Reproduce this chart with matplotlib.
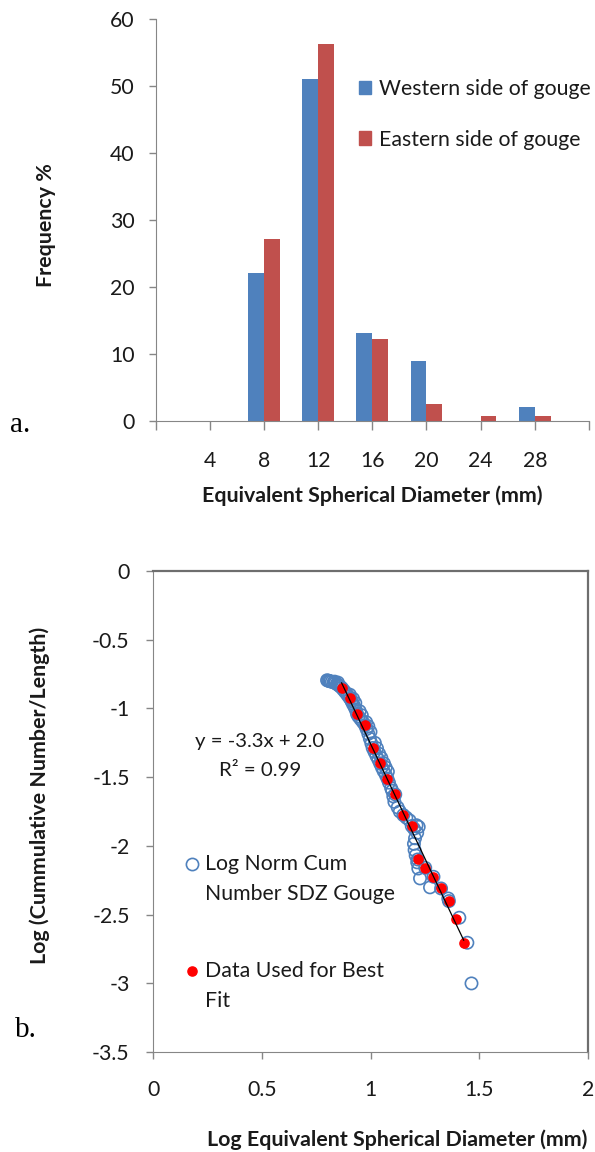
import matplotlib
matplotlib.use("Agg")
import matplotlib.pyplot as plt
from matplotlib.lines import Line2D
from matplotlib.patches import Patch
from matplotlib.legend_handler import HandlerLine2D
import numpy as np

plt.rcParams['font.family'] = ['Lato', 'DejaVu Sans']

# ---- panel a: size distribution ----
size_classes = [4, 8, 12, 16, 20, 24, 28]
western = [0, 22.1, 51.0, 13.2, 8.9, 0, 2.1]
eastern = [0, 27.2, 56.2, 12.2, 2.6, 0.8, 0.8]

# ---- panel b: log cumulative number vs log diameter ----
cum_x = [0.800, 0.805, 0.810, 0.815, 0.822, 0.830, 0.838, 0.845, 0.852, 0.860,
         0.867, 0.875, 0.884, 0.893, 0.900, 0.906, 0.912, 0.918, 0.925, 0.932,
         0.938, 0.945, 0.955, 0.965, 0.975, 0.982, 0.990, 0.997, 1.004, 1.010,
         1.018, 1.027, 1.036, 1.044, 1.052, 1.060, 1.070, 1.078, 1.085, 1.095,
         1.100, 1.105, 1.110, 1.114, 1.125, 1.135, 1.151, 1.165, 1.180, 1.190,
         1.200, 1.212, 1.222, 1.215, 1.205, 1.200, 1.203, 1.208, 1.217, 1.215,
         1.220, 1.228, 1.252, 1.274, 1.290, 1.325, 1.358, 1.361, 1.409, 1.446,
         1.465,
         0.905, 0.930, 0.950, 0.980, 1.000, 1.020, 1.040, 1.062, 1.080,
         0.920, 0.960, 0.990, 1.030, 1.050, 1.070, 0.835, 0.850]
cum_y = [-0.795, -0.798, -0.800, -0.803, -0.806, -0.810, -0.815, -0.822, -0.830, -0.840,
         -0.849, -0.865, -0.882, -0.900, -0.915, -0.927, -0.945, -0.965, -0.985, -1.010,
         -1.041, -1.060, -1.080, -1.100, -1.123, -1.150, -1.185, -1.220, -1.255, -1.288,
         -1.315, -1.345, -1.372, -1.400, -1.428, -1.455, -1.483, -1.511, -1.540, -1.580,
         -1.600, -1.640, -1.680, -1.626, -1.720, -1.750, -1.776, -1.795, -1.815, -1.856,
         -1.875, -1.850, -1.862, -1.905, -1.945, -1.985, -2.030, -2.070, -2.099, -2.120,
         -2.165, -2.237, -2.160, -2.302, -2.225, -2.310, -2.383, -2.402, -2.523, -2.705,
         -3.001,
         -0.900, -0.960, -1.020, -1.100, -1.170, -1.250, -1.330, -1.400, -1.460,
         -0.930, -1.050, -1.130, -1.290, -1.360, -1.430, -0.805, -0.812]

fit_x = [0.867, 0.906, 0.938, 0.975, 1.010, 1.044, 1.078, 1.114, 1.151, 1.190,
         1.217, 1.252, 1.290, 1.325, 1.361, 1.394, 1.429]
fit_y = [-0.849, -0.927, -1.041, -1.123, -1.288, -1.400, -1.511, -1.626, -1.776, -1.856,
         -2.099, -2.160, -2.225, -2.310, -2.402, -2.531, -2.710]

W, H = 595, 1152


def fx(px):
    return px / W


def fy(py):
    return 1 - py / H


class HandlerFirstLine(HandlerLine2D):
    """Legend marker lifted to the first line of a two-line label."""

    def __init__(self, lift, **kw):
        super().__init__(**kw)
        self.lift = lift

    def create_artists(self, legend, orig_handle, xdescent, ydescent,
                       width, height, fontsize, trans):
        return super().create_artists(legend, orig_handle, xdescent,
                                      ydescent - self.lift, width, height,
                                      fontsize, trans)


axis_grey = '#868686'
text_col = '#1a1a1a'
fs = 15.3
lab_fs = 15.4

fig = plt.figure(figsize=(5.95, 11.52), dpi=100)

# ===============================
# PANEL A
# ===============================
ax1 = fig.add_axes([fx(155.6), fy(421), (589 - 155.6) / W, (421 - 19) / H])
bar_w = 1.17
pos = np.array(size_classes)
ax1.bar(pos - bar_w / 2, western, width=bar_w, color='#4F81BD',
        label='Western side of gouge')
ax1.bar(pos + bar_w / 2, eastern, width=bar_w, color='#C0504D',
        label='Eastern side of gouge')
ax1.set_xlim(0, 32)
ax1.set_ylim(0, 60)
ax1.set_xticks(range(0, 33, 4))
ax1.set_xticklabels([''] + [str(s) for s in size_classes] + [''])
ax1.set_yticks(range(0, 61, 10))
ax1.tick_params(axis='x', length=6.5, width=1, color=axis_grey, pad=15,
                labelsize=fs, labelcolor=text_col)
ax1.tick_params(axis='y', length=5, width=1, color=axis_grey, pad=10,
                labelsize=fs, labelcolor=text_col)
for s in ['top', 'right']:
    ax1.spines[s].set_visible(False)
for s in ['left', 'bottom']:
    ax1.spines[s].set_color(axis_grey)

fig.legend(handles=[Patch(color='#4F81BD'), Patch(color='#C0504D')],
           labels=['Western side of gouge', 'Eastern side of gouge'],
           loc='upper left', bbox_to_anchor=(fx(358.6), fy(79)),
           frameon=False, fontsize=fs, handlelength=0.6, handleheight=0.6,
           handletextpad=0.35, labelspacing=1.44, borderpad=0, borderaxespad=0,
           labelcolor=text_col)

fig.text(fx(46), fy(225), 'Frequency %', rotation=90, weight='bold',
         fontsize=lab_fs, ha='center', va='center', color=text_col)
fig.text(fx(372), fy(496), 'Equivalent Spherical Diameter (mm)', weight='bold',
         fontsize=lab_fs, ha='center', va='center', color=text_col)
fig.text(fx(20), fy(425), 'a.', family='Liberation Serif', fontsize=21,
         ha='center', va='center', color='black')

# ===============================
# PANEL B
# ===============================
ax2 = fig.add_axes([fx(153.3), fy(1052), (587.7 - 153.3) / W, (1052 - 571) / H])
ax2.scatter(cum_x, cum_y, s=78, facecolors='none', edgecolors='#4F81BD',
            linewidths=1.2, zorder=2)
ax2.scatter(fit_x, fit_y, s=44, color='#FF0000', zorder=3)
coef = np.polyfit(fit_x, fit_y, 1)
xs = np.array([min(fit_x), max(fit_x)])
ax2.plot(xs, np.polyval(coef, xs), color='black', lw=0.9, zorder=4)

ax2.set_xlim(0, 2)
ax2.set_ylim(-3.5, 0)
xt = [0, 0.5, 1, 1.5, 2]
yt = [0, -0.5, -1, -1.5, -2, -2.5, -3, -3.5]
ax2.set_xticks(xt)
ax2.set_xticklabels([f'{v:g}' for v in xt])
ax2.set_yticks(yt)
ax2.set_yticklabels([f'{v:g}' for v in yt])
ax2.tick_params(axis='x', length=5, width=1, color=axis_grey, pad=15,
                labelsize=fs, labelcolor=text_col)
ax2.tick_params(axis='y', length=5, width=1, color=axis_grey, pad=12,
                labelsize=fs, labelcolor=text_col)
for s in ['top', 'right']:
    ax2.spines[s].set_color('#6e6e6e')
    ax2.spines[s].set_linewidth(1.6)
for s in ['left', 'bottom']:
    ax2.spines[s].set_color(axis_grey)

leg_handles = [
    Line2D([], [], marker='o', ls='none', mfc='none', mec='#4F81BD', mew=1.2, ms=8.8),
    Line2D([], [], marker='o', ls='none', color='#FF0000', ms=6.6),
]
leg2 = ax2.legend(handles=leg_handles,
                  labels=['Log Norm Cum\nNumber SDZ Gouge', 'Data Used for Best\nFit'],
                  handler_map={h: HandlerFirstLine(21.6) for h in leg_handles},
                  loc='upper left', bbox_to_anchor=(fx(183.4), fy(854)),
                  bbox_transform=fig.transFigure, frameon=False, fontsize=fs,
                  handlelength=0.78, handletextpad=0.25, labelspacing=2.7,
                  borderpad=0, borderaxespad=0, labelcolor=text_col)
for t in leg2.get_texts():
    t.set_linespacing(1.6)

fig.text(fx(260), fy(741.7), 'y = -3.3x + 2.0', fontsize=14.7, ha='center',
         va='center', color=text_col)
fig.text(fx(260), fy(770), 'R² = 0.99', fontsize=14.7, ha='center',
         va='center', color=text_col)

fig.text(fx(40), fy(795), 'Log (Cummulative Number/Length)', rotation=90,
         weight='bold', fontsize=lab_fs, ha='center', va='center', color=text_col)
fig.text(fx(397), fy(1140), 'Log Equivalent Spherical Diameter (mm)',
         weight='bold', fontsize=lab_fs, ha='center', va='center', color=text_col)
fig.text(fx(26), fy(1030), 'b.', family='Liberation Serif', fontsize=21,
         ha='center', va='center', color='black')

fig.savefig('out.png', dpi=100)
